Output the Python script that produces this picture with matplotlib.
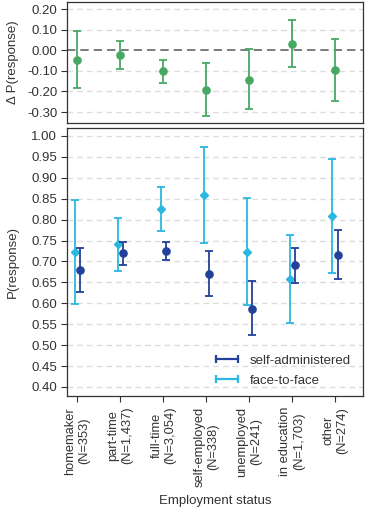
import matplotlib
matplotlib.use("Agg")
import matplotlib.pyplot as plt
from matplotlib.lines import Line2D
import numpy as np

plt.rcParams['font.family'] = ['Liberation Sans', 'DejaVu Sans']
plt.rcParams['font.size'] = 9

# data
categories = ["homemaker\n(N=353)", "part-time\n(N=1,437)", "full-time\n(N=3,054)",
              "self-employed\n(N=338)", "unemployed\n(N=241)", "in education\n(N=1,703)",
              "other\n(N=274)"]

diff_est = [-0.046, -0.023, -0.103, -0.192, -0.142, 0.031, -0.095]
diff_lo = [-0.183, -0.093, -0.158, -0.321, -0.285, -0.083, -0.245]
diff_hi = [0.092, 0.047, -0.046, -0.062, 0.005, 0.147, 0.055]

f2f_est = [0.722, 0.741, 0.825, 0.858, 0.723, 0.659, 0.808]
f2f_lo = [0.598, 0.678, 0.773, 0.743, 0.595, 0.552, 0.673]
f2f_hi = [0.847, 0.803, 0.877, 0.973, 0.851, 0.763, 0.944]

sa_est = [0.679, 0.719, 0.726, 0.671, 0.587, 0.691, 0.716]
sa_lo = [0.628, 0.692, 0.704, 0.618, 0.523, 0.649, 0.657]
sa_hi = [0.733, 0.746, 0.747, 0.725, 0.653, 0.733, 0.775]

green = "#47a863"
dark_blue = "#23419a"
light_blue = "#2ab8e0"
grid_col = "#dcdcdc"
txt = "#333333"

x = np.arange(1, len(categories) + 1)

fig = plt.figure(figsize=(3.65, 5.08), dpi=100)
ax1 = fig.add_axes([67/365, 1 - 123/508, 296/365, 121/508])
ax2 = fig.add_axes([67/365, 1 - 395.7/508, 296/365, 267.7/508])


def err(est, lo, hi):
    est = np.array(est)
    return [est - np.array(lo), np.array(hi) - est]


def style(ax):
    for s in ax.spines.values():
        s.set_color(txt)
        s.set_linewidth(0.9)
    ax.tick_params(axis="y", length=4, color=txt, labelcolor=txt, pad=3, labelsize=9.5)
    ax.set_xlim(0.76, 7.65)
    ax.yaxis.set_label_coords(-0.162, 0.5)


# top panel: difference
for t in np.arange(-0.3, 0.21, 0.1):
    if abs(t) > 1e-9:
        ax1.axhline(t, color=grid_col, lw=1, ls=(0, (4, 3)), zorder=0)
ax1.axhline(0, color="#666666", lw=1.2, ls=(0, (5, 3)), zorder=1)
ax1.errorbar(x, diff_est, yerr=err(diff_est, diff_lo, diff_hi), fmt="o", color=green,
             ms=5.2, elinewidth=1.3, capsize=3, capthick=1.3, zorder=3)
ax1.set_ylim(-0.353, 0.234)
ax1.set_yticks(np.arange(-0.3, 0.21, 0.1))
ax1.set_yticklabels([f"{v:.2f}" for v in np.arange(-0.3, 0.21, 0.1)])
ax1.set_xticks([])
ax1.set_ylabel("Δ P(response)", color=txt, fontsize=9.5)
style(ax1)

# bottom panel: probabilities by mode
yt = np.arange(0.40, 1.001, 0.05)
for t in yt:
    ax2.axhline(t, color=grid_col, lw=1, ls=(0, (4, 3)), zorder=0)
ax2.errorbar(x - 0.06, f2f_est, yerr=err(f2f_est, f2f_lo, f2f_hi), fmt="D", color=light_blue,
             ms=4.2, elinewidth=1.3, capsize=3, capthick=1.3, zorder=3)
ax2.errorbar(x + 0.06, sa_est, yerr=err(sa_est, sa_lo, sa_hi), fmt="o", color=dark_blue,
             ms=5.2, elinewidth=1.3, capsize=3, capthick=1.3, zorder=4)
ax2.set_ylim(0.379, 1.019)
ax2.set_yticks(yt)
ax2.set_yticklabels([f"{v:.2f}" for v in yt])
ax2.set_xticks(x)
ax2.set_xticklabels(categories, rotation=90, ha="center", va="top", multialignment="center",
                    linespacing=1.2)
ax2.tick_params(axis="x", length=4, color=txt, labelcolor=txt, pad=4, labelsize=9.3)
ax2.set_ylabel("P(response)", color=txt, fontsize=9.5)
ax2.set_xlabel("Employment status", color=txt, labelpad=6, fontsize=9.5)
style(ax2)

handles = [Line2D([], [], color=dark_blue, lw=1.6, marker="|", ms=6, mew=1.6),
           Line2D([], [], color=light_blue, lw=1.6, marker="|", ms=6, mew=1.6)]
ax2.legend(handles, ["self-administered", "face-to-face"], loc="lower right", frameon=False,
           bbox_to_anchor=(1.0, -0.01), handlelength=2.3, handletextpad=0.6, numpoints=2,
           labelspacing=0.55, fontsize=9.5, labelcolor=txt)

fig.savefig("out.png", dpi=100)
